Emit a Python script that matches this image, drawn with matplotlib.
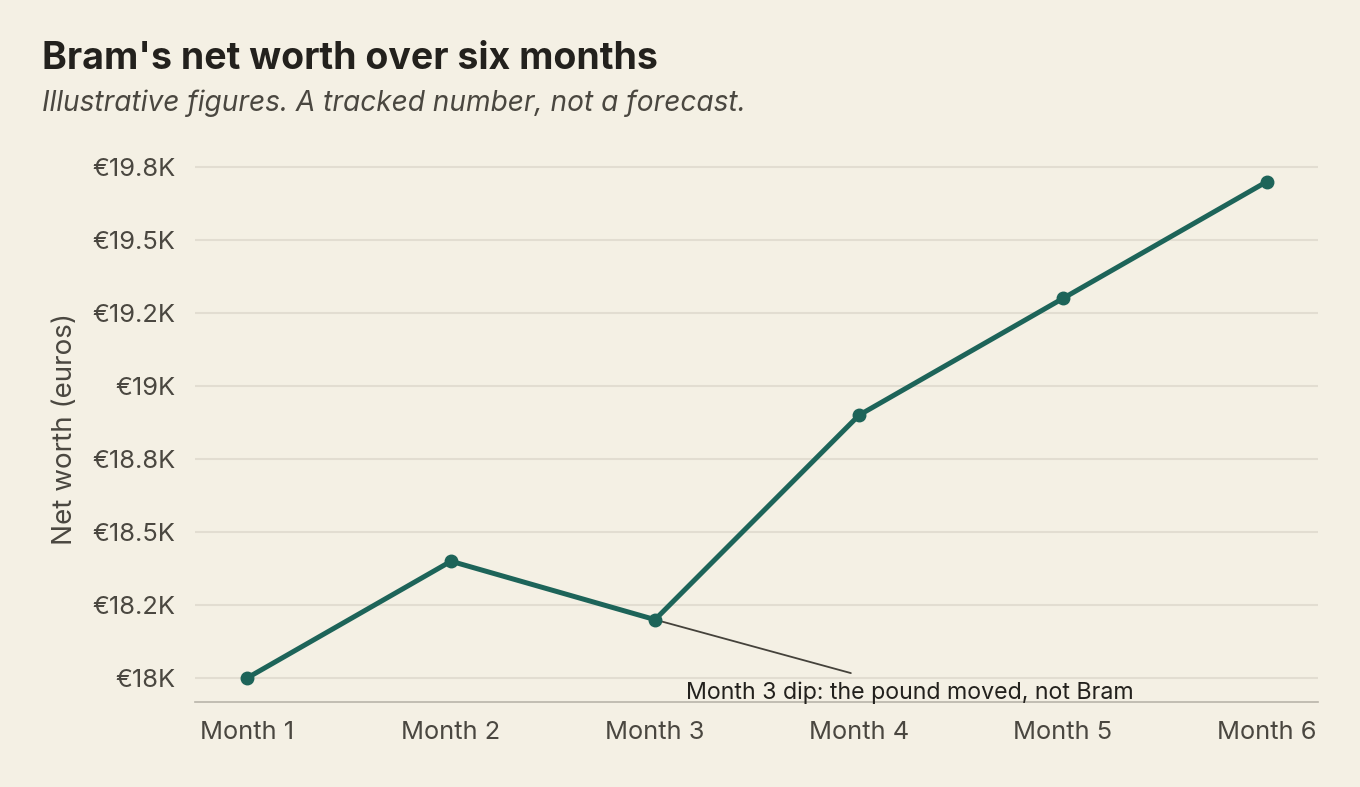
import matplotlib
matplotlib.use("Agg")
import matplotlib.pyplot as plt
from matplotlib.ticker import FixedLocator, FuncFormatter

months = ["Month 1", "Month 2", "Month 3", "Month 4", "Month 5", "Month 6"]
net_worth = [18000, 18400, 18200, 18900, 19300, 19700]
y_ticks = [18000, 18250, 18500, 18750, 19000, 19250, 19500, 19750]

title = "Bram's net worth over six months"
subtitle = "Illustrative figures. A tracked number, not a forecast."
y_label = "Net worth (euros)"
note = "Month 3 dip: the pound moved, not Bram"
note_index = 2

BG = "#F4F0E4"
LINE = "#1D6459"
GRID = "#E2DDD1"
TXT = "#4A4740"
DARK = "#23211D"

plt.rcParams['font.family'] = ['Inter', 'DejaVu Sans']

fig = plt.figure(figsize=(13.6, 7.87), dpi=100, facecolor=BG)
ax = fig.add_axes([0.1434, 0.108, 0.9691 - 0.1434, 0.8027 - 0.108])
ax.set_facecolor(BG)

x = list(range(len(months)))
ax.plot(x, net_worth, color=LINE, lw=3.6, marker='o', ms=9, zorder=3,
        solid_capstyle='round', solid_joinstyle='round')

ax.set_xlim(-0.255, len(months) - 1 + 0.25)
ax.set_ylim(17918, 19790)
ax.yaxis.set_major_locator(FixedLocator(y_ticks))

def fmt(v, pos):
    s = f"{v/1000:.1f}"
    if s.endswith(".0"):
        s = s[:-2]
    return f"€{s}K"

ax.yaxis.set_major_formatter(FuncFormatter(fmt))
ax.set_xticks(x)
ax.set_xticklabels(months)
ax.grid(axis='y', color=GRID, lw=1.5, zorder=0)
ax.grid(axis='x', visible=False)
for s in ['top', 'right', 'left']:
    ax.spines[s].set_visible(False)
ax.spines['bottom'].set_color("#B9B5AA")
ax.spines['bottom'].set_linewidth(1.2)
ax.tick_params(axis='both', length=0, labelsize=18.3, labelcolor=TXT)
ax.tick_params(axis='x', pad=14)
ax.tick_params(axis='y', pad=14)
ax.set_ylabel(y_label, fontsize=20, color=TXT, labelpad=10)

# annotation
ax.annotate("", xy=(note_index, net_worth[note_index]), xytext=(2.96, 18017),
            arrowprops=dict(arrowstyle='-', color="#45423B", lw=1.3,
                            shrinkA=0, shrinkB=0), zorder=2)
ax.text(3.25, 17949, note, ha='center', va='center', fontsize=16.7, color=DARK)

fig.text(42 / 1360, 1 - 59 / 787, title, fontsize=27, fontweight='bold',
         color=DARK, va='center', ha='left')
fig.text(42 / 1360, 1 - 103 / 787, subtitle, fontsize=20.2, fontstyle='italic',
         color=TXT, va='center', ha='left')

fig.savefig("out.png", dpi=100, facecolor=BG)
